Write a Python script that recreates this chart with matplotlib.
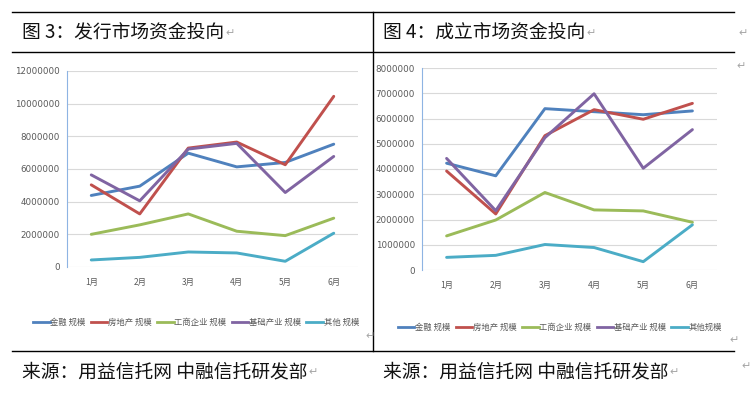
import matplotlib
matplotlib.use("Agg")
import matplotlib.pyplot as plt
from matplotlib.lines import Line2D

# ── Data ───────────────────────────────────────────────────────────────────────
months = ["1月", "2月", "3月", "4月", "5月", "6月"]
names_issue = ["金融 规模", "房地产 规模", "工商企业 规模", "基础产业 规模", "其他 规模"]
names_setup = ["金融 规模", "房地产 规模", "工商企业 规模", "基础产业 规模", "其他规模"]

# 图3 发行市场
issue_finance = [4380000, 4950000, 6970000, 6130000, 6400000, 7520000]
issue_estate  = [5030000, 3250000, 7280000, 7650000, 6260000, 10450000]
issue_corp    = [2000000, 2580000, 3250000, 2190000, 1920000, 2990000]
issue_infra   = [5640000, 4050000, 7220000, 7570000, 4560000, 6770000]
issue_other   = [430000, 590000, 920000, 860000, 350000, 2070000]

# 图4 成立市场
setup_finance = [4230000, 3730000, 6390000, 6270000, 6150000, 6300000]
setup_estate  = [3920000, 2220000, 5320000, 6350000, 5970000, 6600000]
setup_corp    = [1350000, 1980000, 3070000, 2380000, 2340000, 1890000]
setup_infra   = [4420000, 2350000, 5240000, 6980000, 4030000, 5560000]
setup_other   = [500000, 580000, 1010000, 890000, 330000, 1790000]

titles  = ["图 3：发行市场资金投向", "图 4：成立市场资金投向"]
sources = ["来源：用益信托网 中融信托研发部"] * 2

# ── Style ──────────────────────────────────────────────────────────────────────
COLORS = ["#4F81BD", "#C0504D", "#9BBB59", "#8064A2", "#4BACC6"]
CJK    = ["Noto Sans CJK SC", "DejaVu Sans"]
NARROW = ["Liberation Sans Narrow", "DejaVu Sans"]
C_TICK = "#595959"
C_GRID = "#D9D9D9"
C_MARK = "#A6A6A6"

W, H = 755, 396
fig = plt.figure(figsize=(W / 100, H / 100), dpi=100)
fig.patch.set_facecolor("white")


def px(x, y):
    return x / W, 1 - y / H


def draw_panel(rect, series, names, ymax, ystep, leg_xy):
    ax = fig.add_axes(rect)
    x = range(len(months))
    for vals, c, n in zip(series, COLORS, names):
        ax.plot(x, vals, color=c, lw=2.1, label=n, solid_capstyle="round")
    ax.set_xlim(-0.5, len(months) - 0.5)
    ax.set_ylim(0, ymax)
    ax.set_yticks(range(0, ymax + 1, ystep))
    ax.set_yticklabels([str(v) for v in range(0, ymax + 1, ystep)],
                       family=NARROW, fontsize=6.3, color=C_TICK)
    ax.set_xticks(list(x))
    ax.set_xticklabels(months, family=CJK, fontsize=6, color=C_TICK)
    ax.tick_params(axis="y", length=0, pad=5)
    ax.tick_params(axis="x", length=0, pad=8)
    ax.grid(axis="y", color=C_GRID, lw=0.8)
    ax.set_axisbelow(True)
    for s in ["top", "right", "bottom"]:
        ax.spines[s].set_visible(False)
    ax.spines["left"].set_color("#8EB4E3")
    ax.spines["left"].set_linewidth(0.8)
    handles = [Line2D([], [], color=c, lw=2.0) for c in COLORS]
    fig.legend(handles, names, loc="center", bbox_to_anchor=px(*leg_xy),
               ncol=5, frameon=False, prop={"family": CJK, "size": 6},
               handlelength=2.0, handletextpad=0.1, columnspacing=0.6,
               labelcolor=C_TICK)
    return ax


draw_panel([67 / W, 1 - 267 / H, (358 - 67) / W, (267 - 71) / H],
           [issue_finance, issue_estate, issue_corp, issue_infra, issue_other],
           names_issue, 12000000, 2000000, (196, 322))
draw_panel([422 / W, 1 - 270 / H, (717 - 422) / W, (270 - 68) / H],
           [setup_finance, setup_estate, setup_corp, setup_infra, setup_other],
           names_setup, 8000000, 1000000, (560, 327))

# ── Table frame ────────────────────────────────────────────────────────────────
for yy in (12, 52, 351):
    fig.add_artist(Line2D([12 / W, 734 / W], [1 - yy / H] * 2, color="black", lw=1.0))
fig.add_artist(Line2D([373 / W] * 2, [1 - 12 / H, 1 - 351 / H], color="black", lw=1.0))

# Titles and sources, each followed by a grey paragraph mark
fig.canvas.draw()
renderer = fig.canvas.get_renderer()
for label, x0, y0 in [(titles[0], 22, 33), (titles[1], 383, 33),
                      (sources[0], 22, 372), (sources[1], 383, 372)]:
    t = fig.text(*px(x0, y0), label, family=CJK, fontsize=13.5, va="center",
                 color="#111111")
    x_end = t.get_window_extent(renderer).x1
    fig.text(x_end / W + 1 / W, 1 - y0 / H, "↵", family=["DejaVu Sans"],
             fontsize=8, color=C_MARK, va="center")

# Loose paragraph marks
for mx, my in [(743, 33), (741, 66), (370, 336), (734, 340), (746, 366)]:
    fig.text(*px(mx, my), "↵", family=["DejaVu Sans"], fontsize=8, color=C_MARK,
             ha="center", va="center")

fig.savefig("out.png", dpi=100)
